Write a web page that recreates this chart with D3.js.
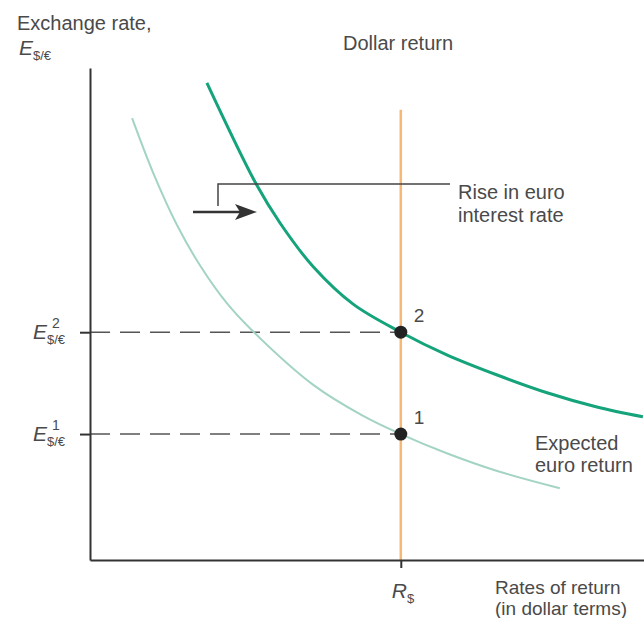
<!DOCTYPE html>
<html>
<head>
<meta charset="utf-8">
<script src="https://cdn.jsdelivr.net/npm/d3@7"></script>
<style>
  body { margin: 0; background: #fff; }
  text { font-family: "Liberation Sans", Arial, sans-serif; fill: #4a4a4a; }
</style>
</head>
<body>
<svg width="644" height="618"></svg>
<script>
// values (abstract units, 0-10 on both axes)
var rDollar = 5.61;
var eLevels = [2.56, 4.63];          // E1, E2
var eLevelNames = ["1", "2"];

var oldRates = [0.76, 1.14, 1.57, 1.99, 2.47, 2.94, 4.03, 4.93, 5.61, 6.44, 7.35, 8.48];
var oldRate  = [8.98, 7.87, 6.81, 5.98, 5.22, 4.65, 3.56, 2.93, 2.56, 2.17, 1.81, 1.46];

var newRates = [2.11, 3.01, 3.43, 4.03, 4.75, 5.61, 6.44, 7.35, 8.25, 9.15, 9.98];
var newRate  = [9.70, 7.62, 6.85, 5.96, 5.20, 4.63, 4.17, 3.76, 3.40, 3.11, 2.91];

var dollarTop = 9.15;

var svg = d3.select("svg");

var x = d3.scaleLinear().domain([0, 10]).range([90, 644]);
var y = d3.scaleLinear().domain([0, 10]).range([560, 68]);

var line = d3.line()
    .x(function(d) { return x(d[0]); })
    .y(function(d) { return y(d[1]); })
    .curve(d3.curveCatmullRom.alpha(0.5));

// dashed guides
svg.selectAll(".guide")
    .data(eLevels)
  .enter().append("line")
    .attr("class", "guide")
    .attr("x1", x(0)).attr("x2", x(rDollar))
    .attr("y1", function(d) { return y(d); })
    .attr("y2", function(d) { return y(d); })
    .attr("stroke", "#555")
    .attr("stroke-width", 1.6)
    .attr("stroke-dasharray", "20,10");

// dollar return
svg.append("line")
    .attr("x1", x(rDollar)).attr("x2", x(rDollar))
    .attr("y1", y(dollarTop)).attr("y2", y(0))
    .attr("stroke", "#f6b877")
    .attr("stroke-width", 2.5);

// expected euro return curves
svg.append("path")
    .datum(d3.zip(oldRates, oldRate))
    .attr("d", line)
    .attr("fill", "none")
    .attr("stroke", "#a3d4c3")
    .attr("stroke-width", 2);

svg.append("path")
    .datum(d3.zip(newRates, newRate))
    .attr("d", line)
    .attr("fill", "none")
    .attr("stroke", "#14a37b")
    .attr("stroke-width", 3);

// axes
svg.append("g")
    .attr("transform", "translate(" + x(0) + ",0)")
    .call(d3.axisLeft(y).tickValues(eLevels).tickSize(10).tickSizeOuter(0).tickFormat(""));
svg.append("g")
    .attr("transform", "translate(0," + y(0) + ")")
    .call(d3.axisBottom(x).tickValues([rDollar]).tickSize(8).tickSizeOuter(0).tickFormat(""));
svg.selectAll(".domain, .tick line")
    .attr("stroke", "#333")
    .attr("stroke-width", 2);

// equilibrium points
svg.selectAll(".pt")
    .data(eLevels)
  .enter().append("circle")
    .attr("cx", x(rDollar))
    .attr("cy", function(d) { return y(d); })
    .attr("r", 6.5)
    .attr("fill", "#222");

svg.selectAll(".ptlab")
    .data(eLevels)
  .enter().append("text")
    .attr("x", x(rDollar) + 13)
    .attr("y", function(d) { return y(d) - 10; })
    .attr("font-size", 19)
    .text(function(d, i) { return eLevelNames[i]; });

// E labels on the y axis
eLevels.forEach(function(d, i) {
  var t = svg.append("text")
      .attr("x", 33)
      .attr("y", y(d) + 7)
      .attr("font-size", 21);
  t.append("tspan").attr("font-style", "italic").text("E");
  t.append("tspan").attr("font-size", 13).attr("dy", 5).text("$/€");
  svg.append("text")
      .attr("x", 52)
      .attr("y", y(d) - 4)
      .attr("font-size", 14)
      .text(eLevelNames[i]);
});

// axis titles
svg.append("text").attr("x", 17).attr("y", 30).attr("font-size", 20).text("Exchange rate,");
var et = svg.append("text").attr("x", 19).attr("y", 55).attr("font-size", 21);
et.append("tspan").attr("font-style", "italic").text("E");
et.append("tspan").attr("font-size", 13).attr("dy", 5).text("$/€");

var rt = svg.append("text").attr("x", x(rDollar) - 9).attr("y", 598).attr("font-size", 21);
rt.append("tspan").attr("font-style", "italic").text("R");
rt.append("tspan").attr("font-size", 13).attr("dy", 5).text("$");

svg.append("text").attr("x", 495).attr("y", 594).attr("font-size", 19).text("Rates of return");
svg.append("text").attr("x", 495).attr("y", 615).attr("font-size", 19).text("(in dollar terms)");

svg.append("text").attr("x", 343).attr("y", 50).attr("font-size", 20).text("Dollar return");

svg.append("text").attr("x", 535).attr("y", 450).attr("font-size", 20).text("Expected");
svg.append("text").attr("x", 535).attr("y", 472).attr("font-size", 20).text("euro return");

// annotation: rise in euro interest rate
svg.append("path")
    .attr("d", "M218,206V184H450")
    .attr("fill", "none")
    .attr("stroke", "#444")
    .attr("stroke-width", 1.5);
svg.append("text").attr("x", 458).attr("y", 199).attr("font-size", 20).text("Rise in euro");
svg.append("text").attr("x", 458).attr("y", 222).attr("font-size", 20).text("interest rate");

svg.append("line")
    .attr("x1", 193).attr("x2", 244)
    .attr("y1", 212).attr("y2", 212)
    .attr("stroke", "#333")
    .attr("stroke-width", 2.5);
svg.append("path")
    .attr("d", "M257,212L235,204L240,212L235,220Z")
    .attr("fill", "#333");
</script>
</body>
</html>
